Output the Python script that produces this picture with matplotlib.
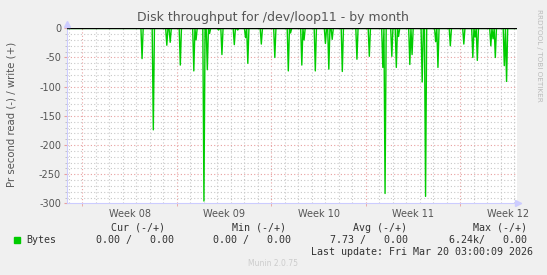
import numpy as np
import matplotlib
matplotlib.use("Agg")
import matplotlib.pyplot as plt
from matplotlib.ticker import FixedLocator, MultipleLocator

# month graph: 400 samples of 2 hours, read values are negative (read), write is zero
n_samples = 400
spike_idx = [67, 77, 89, 92, 101, 113, 115, 122, 125, 127, 135, 138, 149, 152,
             159, 161, 173, 185, 197, 199, 209, 211, 221, 230, 233, 236, 245,
             258, 269, 281, 283, 289, 293, 295, 305, 307, 316, 319, 328, 330,
             341, 353, 361, 363, 365, 377, 379, 381, 389, 391]
spike_val = [-52, -174, -29, -24, -63, -73, -20, -296, -71, -9, -3, -45, -28, -3,
             -16, -60, -27, -50, -73, -8, -63, -20, -73, -26, -70, -19, -74,
             -53, -48, -67, -283, -48, -67, -14, -62, -45, -92, -288, -23, -67,
             -30, -27, -50, -15, -55, -30, -18, -50, -64, -91]

read = np.zeros(n_samples)
read[spike_idx] = spike_val
write = np.zeros(n_samples)

week_labels = ["Week 08", "Week 09", "Week 10", "Week 11", "Week 12"]
monday_idx = [14, 98, 182, 266, 350]
yticks = [0, -50, -100, -150, -200, -250, -300]

bg = "#F0F0F0"
axis_col = "#CCCCFF"
txt = "#333333"
minor_col = "#C8C8C8"
major_col = "#E8A0A0"

fig = plt.figure(figsize=(5.47, 2.75), dpi=100, facecolor=bg)
ax = fig.add_axes([0.1219, 0.2604, 0.8227, 0.6367])
ax.set_facecolor("white")

ax.set_xlim(0, n_samples)
ax.set_ylim(-300, 0)

# grid: days / 10 units minor, weeks / 50 units major
dots = (0, (1, 2))
day_lines = [d for d in range(2, n_samples, 12) if d not in monday_idx]
for d in day_lines:
    ax.axvline(d, color=minor_col, lw=0.8, ls=dots, zorder=1)
for m in monday_idx:
    ax.axvline(m, color=major_col, lw=0.8, ls=dots, zorder=1)
for y in range(-290, 0, 10):
    if y % 50:
        ax.axhline(y, color=minor_col, lw=0.8, ls=dots, zorder=1)
for y in yticks[1:-1]:
    ax.axhline(y, color=major_col, lw=0.8, ls=dots, zorder=1)

x = np.arange(n_samples)
ax.plot(x, read, color="#00CC00", lw=1.0, zorder=3)
ax.plot(x, write, color="#00CC00", lw=1.0, zorder=3)
ax.axhline(0, color="black", lw=0.9, zorder=4)

for s in ["top", "right"]:
    ax.spines[s].set_visible(False)
for s in ["left", "bottom"]:
    ax.spines[s].set_color(axis_col)
    ax.spines[s].set_linewidth(0.8)
ax.spines["bottom"].set_bounds(0, n_samples + 4)
ax.spines["left"].set_bounds(-300, 6)
ax.plot([n_samples + 1], [-300], marker=">", color=axis_col, ms=4, clip_on=False, zorder=5)
ax.plot([0], [8], marker="^", color=axis_col, ms=4, clip_on=False, zorder=5)

ax.set_yticks(yticks)
ax.set_yticklabels([str(v) for v in yticks])
ax.yaxis.set_minor_locator(MultipleLocator(10))
ax.set_xticks([m + 42 for m in monday_idx])
ax.set_xticklabels(week_labels)
ax.xaxis.set_minor_locator(FixedLocator(monday_idx))
ax.tick_params(axis="x", which="major", length=0, labelsize=7, labelcolor="#555555", pad=4)
ax.tick_params(axis="x", which="minor", length=2, color=major_col, direction="out")
ax.tick_params(axis="y", which="major", length=2, color=major_col, labelsize=7,
               labelcolor="#555555", pad=2)
ax.tick_params(axis="y", which="minor", length=1.5, color="#BBBBBB")

fig.text(0.499, 0.937, "Disk throughput for /dev/loop11 - by month", ha="center",
         va="center", fontsize=9, color="#555555")
fig.text(0.021, 0.585, "Pr second read (-) / write (+)", rotation=90, ha="center",
         va="center", fontsize=7.3, color="#555555")
fig.text(0.985, 0.8, "RRDTOOL / TOBI OETIKER", rotation=270, ha="center",
         va="center", fontsize=5.2, color="#BBBBBB")

# legend block
mono = dict(family="DejaVu Sans Mono", fontsize=7.2, color=txt, va="center")
W, H = 547.0, 275.0


def put(px, py, s, ha="left"):
    fig.text(px / W, 1 - py / H, s, ha=ha, **mono)


fig.patches.append(plt.Rectangle((14 / W, 1 - 243 / H), 6 / W, 6 / H,
                                 transform=fig.transFigure, color="#00CC00"))
put(111, 227.7, "Cur (-/+)")
put(232, 227.7, "Min (-/+)")
put(352.7, 227.7, "Avg (-/+)")
put(473, 227.7, "Max (-/+)")
put(26, 240, "Bytes")
put(96, 240, "0.00 /   0.00")
put(213, 240, "0.00 /   0.00")
put(330, 240, "7.73 /   0.00")
put(448.7, 240, "6.24k/   0.00")
put(311, 251.7, "Last update: Fri Mar 20 03:00:09 2026")
fig.text(273 / W, 1 - 263.7 / H, "Munin 2.0.75", ha="center", va="center",
         fontsize=5.5, color="#CCCCCC")

fig.savefig("out.png", dpi=100, facecolor=bg)
